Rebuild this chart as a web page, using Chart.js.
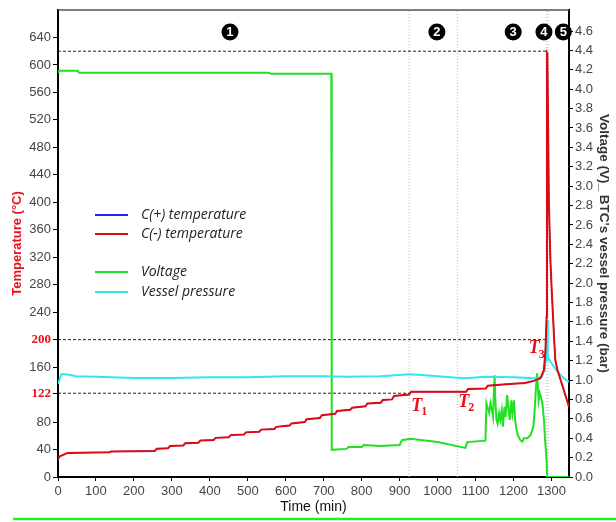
<!DOCTYPE html>
<html>
<head>
<meta charset="utf-8">
<script src="https://cdn.jsdelivr.net/npm/chart.js@4.4.1/dist/chart.umd.min.js"></script>
<style>
  body { margin: 0; background: #fff; }
</style>
</head>
<body>
<canvas id="chart" width="616" height="522"></canvas>
<script>
// time axis (min)
const timeTicks = [0, 100, 200, 300, 400, 500, 600, 700, 800, 900, 1000, 1100, 1200, 1300];
const tempTicks = [0, 40, 80, 122, 160, 200, 240, 280, 320, 360, 400, 440, 480, 520, 560, 600, 640];
const voltTicks = [0, 0.2, 0.4, 0.6, 0.8, 1.0, 1.2, 1.4, 1.6, 1.8, 2.0, 2.2, 2.4, 2.6, 2.8, 3.0,
  3.2, 3.4, 3.6, 3.8, 4.0, 4.2, 4.4, 4.6];
const redTemps = [122, 200]; // highlighted tick labels

// C(-) temperature, left axis
const redTime = [0, 5, 25, 135, 140, 255, 260, 290, 295, 330, 335, 370, 375, 410, 415, 450, 455,
  490, 495, 530, 535, 570, 575, 610, 615, 650, 655, 690, 695, 730, 735, 770, 775, 810, 815, 850,
  855, 880, 885, 925, 930, 1075, 1080, 1127, 1132, 1180, 1230, 1253, 1271, 1280, 1284, 1287, 1288,
  1289, 1293, 1297, 1300, 1304, 1307, 1310, 1316, 1324, 1332, 1346];
const redTemp = [27, 30, 35, 36, 37, 38, 41, 42, 45, 46, 49, 50, 53, 54, 57, 58, 61,
  62, 65, 66, 69, 70, 73, 75, 78, 80, 84, 86, 90, 92, 96, 98, 101, 103, 107, 108,
  112, 113, 118, 120, 124, 124, 128, 129, 133, 135, 137, 140, 144, 156, 185, 233, 618,
  617, 399, 316, 277, 233, 200, 170, 155, 141, 127, 102];

// C(+) temperature, almost fully hidden under the red one
const blueTemp = [24, 30, 35, 36, 37, 38, 41, 42, 45, 46, 49, 50, 53, 54, 57, 58, 61,
  62, 65, 66, 69, 70, 73, 75, 78, 80, 84, 86, 90, 92, 96, 98, 101, 103, 107, 108,
  112, 113, 118, 120, 124, 124, 128, 129, 133, 135, 137, 140, 144, 156, 185, 233, 618,
  617, 399, 316, 277, 233, 200, 170, 155, 141, 127, 102];

// Voltage (V), right axis
const greenTime = [0, 3, 52, 55, 555, 560, 720, 721, 760, 765, 800, 805, 849, 900, 906, 928,
  1000, 1073, 1078, 1126, 1128.5, 1132, 1136, 1139, 1143, 1146, 1150, 1152, 1155, 1158,
  1162, 1165, 1169, 1172, 1176, 1179, 1183, 1187, 1190, 1194, 1197, 1201, 1204, 1208, 1211,
  1215, 1218, 1223, 1227, 1236, 1245, 1252, 1255, 1259, 1262, 1266, 1269, 1273, 1276, 1280,
  1283, 1287, 1288.5, 1346];
const greenVolt = [4.17, 4.19, 4.19, 4.17, 4.17, 4.16, 4.16, 0.28, 0.29, 0.31, 0.31, 0.33, 0.32, 0.33, 0.38, 0.395,
  0.36, 0.30, 0.36, 0.375, 0.76, 0.71, 0.66, 0.76, 0.69, 0.62, 1.05, 0.79, 0.59, 0.55,
  0.66, 0.59, 0.69, 0.52, 0.725, 0.62, 0.846, 0.69, 0.59, 0.79, 0.66, 0.79, 0.59, 0.485, 0.433,
  0.40, 0.38, 0.364, 0.40, 0.40, 0.433, 0.52, 0.657, 0.93, 1.07, 0.79, 0.863, 0.81, 0.76, 0.59,
  0.38, 0.175, 0, 0];

// Vessel pressure (bar), right axis
const cyanTime = [0, 9, 22, 48, 101, 200, 300, 400, 500, 600, 700, 760, 849, 928, 1000, 1050,
  1073, 1128, 1201, 1255, 1273, 1282, 1286, 1288.5, 1290, 1292, 1306, 1319, 1332, 1346];
const cyanPres = [0.96, 1.06, 1.06, 1.04, 1.035, 1.02, 1.02, 1.03, 1.03, 1.04, 1.04, 1.035, 1.04, 1.06, 1.04, 1.024,
  1.018, 1.035, 1.028, 1.018, 1.03, 1.10, 1.28, 1.62, 1.21, 1.22, 1.14, 1.07, 1.02, 0.98];

// reference lines
const refTemps = [620, 200, 122];
const refEnds = [1288, 1286, 925];
const guideTimes = [925, 1052, 1286, 1291];

// stage markers and T labels
const stageLabels = ['1', '2', '3', '4', '5'];
const stageTimes = [453, 998, 1199, 1280, 1331];
const stageTemp = 648;
const tLabels = ['1', '2', '3'];
const tTimes = [954, 1078, 1264];
const tTemps = [100, 106, 184];

const toXY = (xs, ys) => xs.map((x, i) => ({ x: x, y: ys[i] }));

const lineDs = (label, data, color, axis, width, order) => ({
  label: label,
  data: data,
  borderColor: color,
  borderWidth: width,
  pointRadius: 0,
  fill: false,
  tension: 0,
  yAxisID: axis,
  order: order,
});

const datasets = [
  lineDs('C(-) temperature', toXY(redTime, redTemp), '#dc0a14', 'y', 2, 0),
  lineDs('C(+) temperature', toXY(redTime, blueTemp), '#1f1fff', 'y', 1, 1),
  lineDs('Vessel pressure', toXY(cyanTime, cyanPres), '#30e6f0', 'y1', 2, 2),
  lineDs('Voltage', toXY(greenTime, greenVolt), '#22e022', 'y1', 2, 3),
];

refTemps.forEach((t, i) => {
  const ds = lineDs('ref', [{ x: 0, y: t }, { x: refEnds[i], y: t }], '#222', 'y', 1, 5);
  ds.borderDash = [3, 2];
  datasets.push(ds);
});
guideTimes.forEach(t => {
  const ds = lineDs('guide', [{ x: t, y: 0 }, { x: t, y: 680 }], '#bbbbbb', 'y', 1, 6);
  ds.borderDash = [1, 2];
  datasets.push(ds);
});

const legendItems = [
  { text: 'C(+) temperature', color: '#1f1fff', y: 215 },
  { text: 'C(-) temperature', color: '#dc0a14', y: 234 },
  { text: 'Voltage', color: '#22e022', y: 272 },
  { text: 'Vessel pressure', color: '#30e6f0', y: 292 },
];

const overlay = {
  id: 'overlay',
  afterDatasetsDraw(chart) {
    const ctx = chart.ctx;
    const xs = chart.scales.x, ys = chart.scales.y;
    const area = chart.chartArea;
    ctx.save();

    // top border of the plot
    ctx.strokeStyle = '#555';
    ctx.lineWidth = 1.5;
    ctx.beginPath();
    ctx.moveTo(area.left, area.top);
    ctx.lineTo(area.right, area.top);
    ctx.stroke();

    // numbered stage markers
    stageLabels.forEach((s, i) => {
      const cx = xs.getPixelForValue(stageTimes[i]);
      const cy = ys.getPixelForValue(stageTemp);
      ctx.fillStyle = '#000';
      ctx.beginPath();
      ctx.arc(cx, cy, 8.5, 0, Math.PI * 2);
      ctx.fill();
      ctx.fillStyle = '#fff';
      ctx.font = 'bold 13px "Liberation Sans", Arial';
      ctx.textAlign = 'center';
      ctx.textBaseline = 'middle';
      ctx.fillText(s, cx, cy + 0.5);
    });

    // T1..T3
    tLabels.forEach((s, i) => {
      const px = xs.getPixelForValue(tTimes[i]);
      const py = ys.getPixelForValue(tTemps[i]);
      ctx.fillStyle = '#e8101a';
      ctx.textAlign = 'left';
      ctx.textBaseline = 'middle';
      ctx.font = 'italic bold 18px "Liberation Serif", serif';
      ctx.fillText('T', px - 9, py - 2);
      ctx.font = 'bold 12px "Liberation Serif", serif';
      ctx.fillText(s, px + 1, py + 4);
    });

    // legend
    legendItems.forEach(it => {
      ctx.strokeStyle = it.color;
      ctx.lineWidth = 2;
      ctx.beginPath();
      ctx.moveTo(95, it.y);
      ctx.lineTo(128, it.y);
      ctx.stroke();
      ctx.fillStyle = '#222';
      ctx.font = 'italic 14px "Open Sans", sans-serif';
      ctx.textAlign = 'left';
      ctx.textBaseline = 'middle';
      ctx.fillText(it.text, 141, it.y);
    });

    // green rule under the figure
    ctx.strokeStyle = '#22ee22';
    ctx.lineWidth = 2.5;
    ctx.beginPath();
    ctx.moveTo(13, 519);
    ctx.lineTo(616, 519);
    ctx.stroke();
    ctx.restore();
  },
};

const tickFont = { family: '"Liberation Sans", Arial', size: 13 };
const isRedTick = c => !!(c && c.tick && redTemps.includes(c.tick.value));

new Chart(document.getElementById('chart').getContext('2d'), {
  type: 'line',
  data: { datasets: datasets },
  options: {
    responsive: false,
    animation: false,
    devicePixelRatio: 1,
    layout: { padding: { top: 10 } },
    plugins: { legend: { display: false }, tooltip: { enabled: false } },
    scales: {
      x: {
        type: 'linear',
        min: 0,
        max: 1346,
        afterBuildTicks: s => { s.ticks = timeTicks.map(v => ({ value: v })); },
        afterFit: s => { s.height = 45; },
        border: { color: '#000', width: 2 },
        grid: { drawOnChartArea: false, color: '#000', tickLength: 4 },
        ticks: {
          color: '#444', font: tickFont, padding: 3, maxRotation: 0, autoSkip: false,
          callback: v => String(v),
        },
        title: {
          display: true, text: 'Time (min)', color: '#111',
          font: { family: '"Liberation Sans", Arial', size: 14 },
          padding: { top: 0, bottom: 6 },
        },
      },
      y: {
        position: 'left',
        min: 0,
        max: 680,
        afterBuildTicks: s => { s.ticks = tempTicks.map(v => ({ value: v })); },
        afterFit: s => { s.width = 58; },
        border: { color: '#000', width: 2 },
        grid: { drawOnChartArea: false, color: '#000', tickLength: 5 },
        ticks: {
          padding: 2,
          autoSkip: false,
          callback: v => String(v),
          color: c => isRedTick(c) ? '#e8101a' : '#444',
          font: c => isRedTick(c)
            ? { family: '"Liberation Serif", serif', size: 13, weight: 'bold' }
            : tickFont,
        },
        title: {
          display: true, text: 'Temperature (°C)', color: '#e8101a',
          font: { family: '"Liberation Sans", Arial', size: 13, weight: 'bold' },
          padding: { top: 10, bottom: 0 },
        },
      },
      y1: {
        position: 'right',
        min: 0,
        max: 4.817,
        afterBuildTicks: s => { s.ticks = voltTicks.map(v => ({ value: v })); },
        afterFit: s => { s.width = 47; },
        border: { color: '#000', width: 2 },
        grid: { drawOnChartArea: false, color: '#000', tickLength: 4 },
        ticks: {
          color: '#444', font: tickFont, padding: 2, autoSkip: false,
          callback: v => v.toFixed(1),
        },
        title: {
          display: true, text: "Voltage (V)_ BTC's vessel pressure (bar)", color: '#333',
          font: { family: '"Liberation Sans", Arial', size: 13.5, weight: 'bold' },
          padding: { top: 4, bottom: 0 },
        },
      },
    },
  },
  plugins: [overlay],
});
</script>
</body>
</html>
